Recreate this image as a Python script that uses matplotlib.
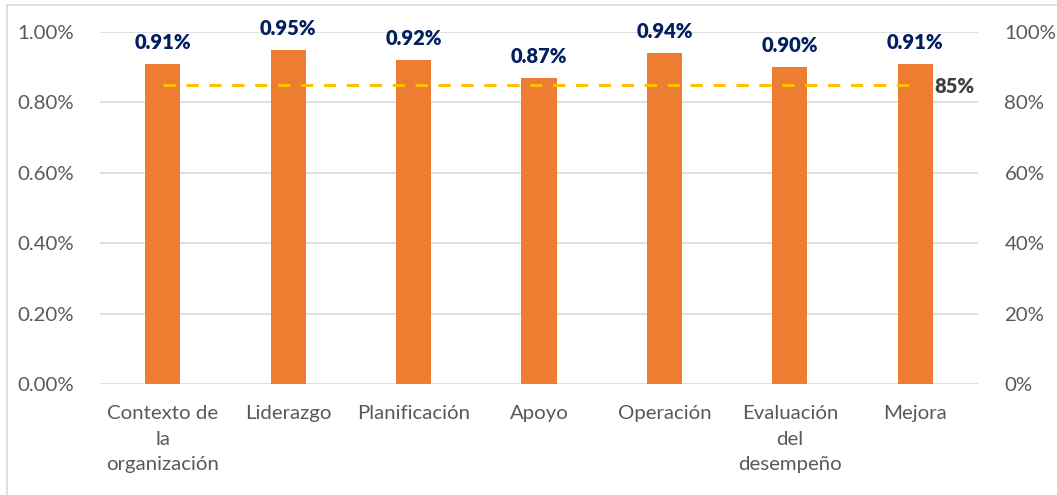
import matplotlib
matplotlib.use("Agg")
import matplotlib.pyplot as plt
from matplotlib.patches import Rectangle

categories = ["Contexto de\nla\norganización", "Liderazgo", "Planificación", "Apoyo",
              "Operación", "Evaluación\ndel\ndesempeño", "Mejora"]
values = [0.91, 0.95, 0.92, 0.87, 0.94, 0.90, 0.91]
value_labels = ["0.91%", "0.95%", "0.92%", "0.87%", "0.94%", "0.90%", "0.91%"]
left_ticks = [0.0, 0.2, 0.4, 0.6, 0.8, 1.0]
left_tick_labels = ["0.00%", "0.20%", "0.40%", "0.60%", "0.80%", "1.00%"]
right_ticks = [0.0, 0.2, 0.4, 0.6, 0.8, 1.0]
right_tick_labels = ["0%", "20%", "40%", "60%", "80%", "100%"]
target = 0.85
target_label = "85%"

plt.rcParams['font.family'] = ['Lato', 'DejaVu Sans']

fig = plt.figure(figsize=(10.57, 4.95), dpi=100)
ax = fig.add_axes([100/1057, 1-384/495, 878/1057, 352/495])

x = list(range(len(categories)))
ax.bar(x, values, width=0.28, color="#ED7D31", zorder=3)
ax.set_xlim(-0.5, len(categories) - 0.5)
ax.set_ylim(0, 1.0)
ax.set_yticks(left_ticks)
ax.set_yticklabels(left_tick_labels)
ax.set_xticks(x)
ax.set_xticklabels(categories, linespacing=1.62)
ax.tick_params(axis='both', length=0, labelsize=14.7, colors="#595959")
ax.tick_params(axis='x', pad=15)
ax.tick_params(axis='y', pad=19)
ax.grid(axis='y', color="#D9D9D9", linewidth=1.2, zorder=0)
for s in ax.spines.values():
    s.set_visible(False)

for xi, v, lab in zip(x, values, value_labels):
    ax.annotate(lab, (xi, v), xytext=(0, 8.5), textcoords='offset points',
                ha='center', va='bottom', fontsize=14.5, fontweight='heavy', color="#002060")

ax2 = ax.twinx()
ax2.set_ylim(0, 1.0)
ax2.set_yticks(right_ticks)
ax2.set_yticklabels(right_tick_labels)
ax2.tick_params(axis='y', length=0, labelsize=14.7, colors="#595959", pad=19)
for s in ax2.spines.values():
    s.set_visible(False)
ax2.plot([x[0], x[-1]], [target, target], linestyle=(0, (4, 3.5)), color="#FFC000",
         linewidth=2.2, zorder=4)
ax2.annotate(target_label, (x[-1], target), xytext=(14, -1), textcoords='offset points',
             ha='left', va='center', fontsize=14.5, fontweight='heavy', color="#404040")

fig.patches.append(Rectangle((7/1057, -0.1), 1.2, (495-5)/495 + 0.1, transform=fig.transFigure,
                             fill=False, edgecolor="#D9D9D9", linewidth=1.2))

fig.savefig("out.png", dpi=100)
